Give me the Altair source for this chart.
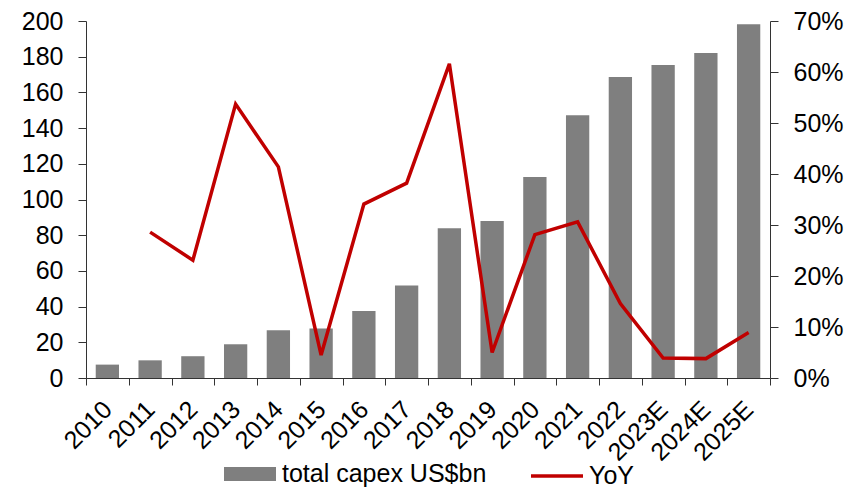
import altair as alt
import pandas as pd

# Annual capex (US$bn) and year-on-year growth
years = ["2010", "2011", "2012", "2013", "2014", "2015", "2016", "2017",
         "2018", "2019", "2020", "2021", "2022", "2023E", "2024E", "2025E"]
capex = [7.5, 9.9, 12.2, 18.9, 26.7, 27.8, 37.5, 51.8,
         83.9, 88.0, 112.6, 147.2, 168.6, 175.4, 182.1, 198.2]
yoy = [None, 0.286, 0.231, 0.537, 0.414, 0.045, 0.341, 0.382,
       0.616, 0.050, 0.281, 0.306, 0.146, 0.039, 0.038, 0.089]

bar_name = "total capex US$bn"
line_name = "YoY"

df = pd.DataFrame({"year": years, "capex": capex, "yoy": yoy})
df["bar_series"] = bar_name
df["line_series"] = line_name

FONT = "Liberation Sans"
FS = 25

x_enc = alt.X(
    "year:N", sort=years, title=None,
    scale=alt.Scale(paddingInner=0, paddingOuter=0),
    axis=alt.Axis(labelAngle=-45, labelAlign="right", labelBaseline="middle",
                  labelPadding=20, tickSize=7, tickBand="extent",
                  domainColor="#333333", tickColor="#333333",
                  labelFont=FONT, labelFontSize=FS, labelColor="black"),
)

bars = alt.Chart(df).mark_bar(width={"band": 0.545}, color="#7f7f7f").encode(
    x=x_enc,
    y=alt.Y("capex:Q", title=None,
            scale=alt.Scale(domain=[0, 200], nice=False),
            axis=alt.Axis(values=list(range(0, 201, 20)), orient="left",
                          grid=False, tickSize=8, labelPadding=15,
                          domainColor="#333333", tickColor="#333333",
                          labelFont=FONT, labelFontSize=FS, labelColor="black")),
    color=alt.Color("bar_series:N", scale=alt.Scale(range=["#7f7f7f"]),
                    legend=alt.Legend(title=None, orient="none",
                                      legendX=138, legendY=427,
                                      symbolType="M-1,-0.27H1V0.27H-1Z",
                                      symbolSize=2704, symbolOpacity=1,
                                      symbolStrokeWidth=0, labelLimit=0,
                                      labelFont=FONT, labelFontSize=FS,
                                      labelColor="black", labelOffset=6)),
)

line = alt.Chart(df).mark_line(color="#c00000", strokeWidth=3.5).encode(
    x=alt.X("year:N", sort=years),
    y=alt.Y("yoy:Q", title=None,
            scale=alt.Scale(domain=[0, 0.7], nice=False),
            axis=alt.Axis(values=[i / 10 for i in range(8)], orient="right",
                          format=".0%", grid=False, tickSize=8, labelPadding=15,
                          domainColor="#333333", tickColor="#333333",
                          labelFont=FONT, labelFontSize=FS, labelColor="black")),
    color=alt.Color("line_series:N", scale=alt.Scale(range=["#c00000"]),
                    legend=alt.Legend(title=None, orient="none",
                                      legendX=443, legendY=427,
                                      symbolType="stroke", symbolSize=2704,
                                      symbolStrokeWidth=3.5, labelLimit=0,
                                      labelFont=FONT, labelFontSize=FS,
                                      labelColor="black", labelOffset=4)),
)

chart = alt.layer(bars, line).resolve_scale(
    y="independent", color="independent"
).properties(
    width=684, height=357,
    autosize=alt.AutoSizeParams(type="none"),
    padding={"left": 86, "top": 21, "right": 90, "bottom": 110},
).configure_view(stroke=None)

chart.save("out.html", embed_options={"renderer": "svg", "actions": False})
